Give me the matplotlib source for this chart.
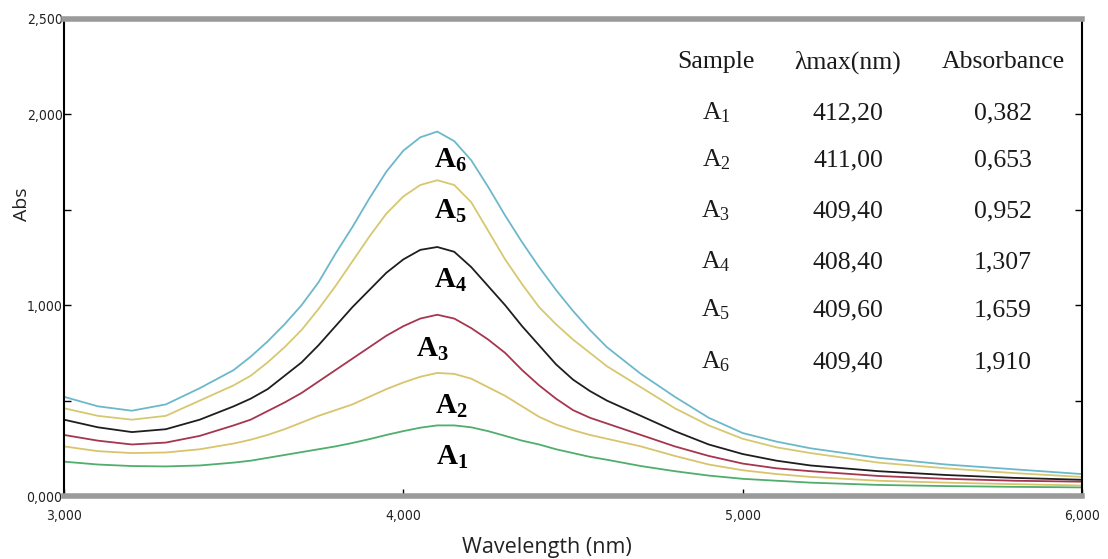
"""
UV-Vis absorption spectra of samples A1-A6 with a table of λmax / absorbance.
"""

import matplotlib
matplotlib.use("Agg")
import matplotlib.pyplot as plt
from matplotlib.ticker import FixedLocator, FuncFormatter

plt.rcParams["mathtext.fontset"] = "custom"
plt.rcParams["mathtext.rm"] = "Liberation Serif"
plt.rcParams["mathtext.it"] = "Liberation Serif:italic"
plt.rcParams["mathtext.bf"] = "Liberation Serif:bold"

# wavelength axis (hundreds of nm, as on the instrument printout)
wl = [3.0, 3.1, 3.2, 3.3, 3.4, 3.5,
      3.55, 3.6, 3.65, 3.7, 3.75, 3.8, 3.85, 3.9, 3.95, 4.0, 4.05,
      4.1, 4.15, 4.2, 4.25, 4.3, 4.35, 4.4, 4.45, 4.5, 4.55, 4.6,
      4.7, 4.8, 4.9, 5.0, 5.1, 5.2,
      5.4, 5.6, 5.8, 6.0]

a1 = [0.18, 0.165, 0.157, 0.155, 0.16, 0.175,
      0.185, 0.20, 0.215, 0.23, 0.245, 0.26, 0.278, 0.298, 0.32, 0.34, 0.358,
      0.37, 0.37, 0.36, 0.34, 0.315, 0.29, 0.27, 0.245, 0.225, 0.205, 0.19,
      0.157, 0.13, 0.107, 0.09, 0.08, 0.07,
      0.058, 0.052, 0.048, 0.045]
a2 = [0.26, 0.235, 0.225, 0.228, 0.245, 0.275,
      0.295, 0.32, 0.35, 0.385, 0.42, 0.45, 0.48, 0.52, 0.56, 0.595, 0.625,
      0.645, 0.64, 0.615, 0.57, 0.525, 0.47, 0.415, 0.375, 0.345, 0.32, 0.30,
      0.26, 0.21, 0.165, 0.135, 0.115, 0.10,
      0.08, 0.07, 0.062, 0.055]
a3 = [0.32, 0.29, 0.27, 0.28, 0.315, 0.37,
      0.40, 0.445, 0.49, 0.54, 0.60, 0.66, 0.72, 0.78, 0.84, 0.89, 0.93,
      0.95, 0.93, 0.88, 0.82, 0.75, 0.66, 0.58, 0.51, 0.45, 0.41, 0.38,
      0.32, 0.26, 0.21, 0.17, 0.145, 0.13,
      0.105, 0.09, 0.08, 0.075]
a4 = [0.40, 0.36, 0.335, 0.35, 0.40, 0.47,
      0.51, 0.56, 0.63, 0.70, 0.79, 0.89, 0.99, 1.08, 1.17, 1.24, 1.29,
      1.305, 1.28, 1.20, 1.10, 1.00, 0.89, 0.79, 0.69, 0.61, 0.55, 0.50,
      0.42, 0.34, 0.27, 0.22, 0.185, 0.16,
      0.13, 0.11, 0.095, 0.085]
a5 = [0.46, 0.42, 0.40, 0.42, 0.50, 0.58,
      0.63, 0.70, 0.78, 0.87, 0.98, 1.10, 1.23, 1.36, 1.48, 1.57, 1.63,
      1.655, 1.63, 1.54, 1.39, 1.24, 1.11, 0.99, 0.90, 0.82, 0.75, 0.68,
      0.57, 0.46, 0.37, 0.30, 0.255, 0.225,
      0.175, 0.145, 0.12, 0.10]
a6 = [0.52, 0.47, 0.447, 0.48, 0.565, 0.66,
      0.73, 0.81, 0.90, 1.00, 1.12, 1.27, 1.41, 1.56, 1.70, 1.81, 1.88,
      1.91, 1.86, 1.76, 1.62, 1.47, 1.33, 1.20, 1.08, 0.97, 0.87, 0.78,
      0.64, 0.52, 0.41, 0.33, 0.285, 0.25,
      0.20, 0.165, 0.14, 0.115]

curves = [a1, a2, a3, a4, a5, a6]
colors = ["#4fae6c", "#d9c46c", "#a5364e", "#1e1e1e", "#d6c870", "#6cb8cb"]

# in-plot labels (x, y in data units)
label_x = [4.145, 4.14, 4.085, 4.14, 4.14, 4.14]
label_y = [0.20, 0.47, 0.77, 1.13, 1.49, 1.76]
labels = [r"A$_\mathbf{%d}$" % k for k in range(1, 7)]

# table
samples = [r"A$_%d$" % k for k in range(1, 7)]
lam_max = ["412,20", "411,00", "409,40", "408,40", "409,60", "409,40"]
absorb = ["0,382", "0,653", "0,952", "1,307", "1,659", "1,910"]

x_ticks = [3.0, 4.0, 5.0, 6.0]
y_ticks = [0.0, 0.5, 1.0, 1.5, 2.0, 2.5]
y_labeled = [0.0, 1.0, 2.0, 2.5]

fig = plt.figure(figsize=(11.08, 5.59), dpi=100)
ax = fig.add_axes([64 / 1108, 1 - 496 / 559, (1082 - 64) / 1108, (496 - 19) / 559])

for ys, c in zip(curves, colors):
    ax.plot(wl, ys, color=c, lw=1.3)

for i, s in enumerate(labels):
    ax.text(label_x[i], label_y[i], s, family="Liberation Serif", fontweight="bold",
            fontsize=21, ha="center", va="center")

ax.set_xlim(3.0, 6.0)
ax.set_ylim(0.0, 2.5)

comma3 = lambda v: f"{v:.3f}".replace(".", ",")
ax.xaxis.set_major_locator(FixedLocator(x_ticks))
ax.yaxis.set_major_locator(FixedLocator(y_ticks))
ax.xaxis.set_major_formatter(FuncFormatter(lambda v, p: comma3(v)))
ax.yaxis.set_major_formatter(FuncFormatter(lambda v, p: comma3(v) if v in y_labeled else ""))
ax.tick_params(axis="both", direction="in", length=5, width=1, labelsize=10)
ax.tick_params(axis="x", pad=9)
ax.tick_params(axis="y", right=True, pad=1)
for lab in ax.get_xticklabels() + ax.get_yticklabels():
    lab.set_family("DejaVu Sans")
    lab.set_stretch("condensed")
    lab.set_color("#222222")

for side in ("left", "right"):
    ax.spines[side].set_color("black")
    ax.spines[side].set_linewidth(1.5)
for side in ("top", "bottom"):
    ax.spines[side].set_color("#9a9a9a")
    ax.spines[side].set_linewidth(4)
ax.plot([0, 1], [1, 1], transform=ax.transAxes, color="#333333", lw=1, clip_on=False)
ax.plot([0, 1], [0, 0], transform=ax.transAxes, color="#333333", lw=1, clip_on=False)

fig.text(547 / 1108, 1 - 547 / 559, "Wavelength (nm)", family="Open Sans",
         fontsize=15.5, ha="center", va="center", color="#222222")
fig.text(22 / 1108, 1 - 204 / 559, "Abs", family="Open Sans", fontsize=14,
         rotation=90, ha="center", va="center", color="#222222")

# table of peak positions
col_x = [716, 848, 1003]
head_y = 62
row_y = [113, 160, 211, 262, 310, 362]
tfont = dict(family="Liberation Serif", fontsize=18.5, ha="center", va="center", color="#1a1a1a")
for cx, h in zip(col_x, ["Sample", "λmax(nm)", "Absorbance"]):
    fig.text(cx / 1108, 1 - head_y / 559, h, **tfont)
for i in range(len(samples)):
    yy = 1 - row_y[i] / 559
    fig.text(col_x[0] / 1108, yy, samples[i], **tfont)
    fig.text(col_x[1] / 1108, yy, lam_max[i], **tfont)
    fig.text(col_x[2] / 1108, yy, absorb[i], **tfont)

fig.savefig("out.png", dpi=100)
